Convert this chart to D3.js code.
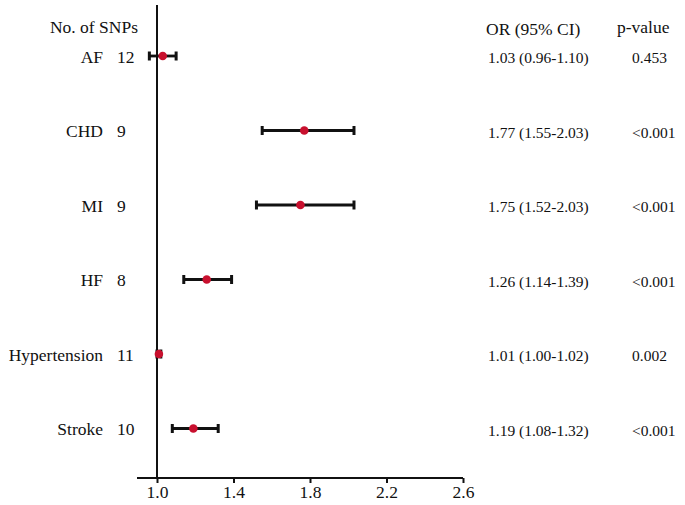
<!DOCTYPE html>
<html>
<head>
<meta charset="utf-8">
<script src="https://cdn.jsdelivr.net/npm/d3@7"></script>
<style>
  html, body { margin: 0; padding: 0; background: #fff; }
  svg { display: block; }
  text { font-family: "Liberation Serif", "Times New Roman", serif; fill: #111; }
</style>
</head>
<body>
<svg id="chart" width="685" height="505"></svg>
<script>
const outcomes = ["AF", "CHD", "MI", "HF", "Hypertension", "Stroke"];
const nSNPs = [12, 9, 9, 8, 11, 10];
const orValues = [1.03, 1.77, 1.75, 1.26, 1.01, 1.19];
const ciLower = [0.96, 1.55, 1.52, 1.14, 1.00, 1.08];
const ciUpper = [1.10, 2.03, 2.03, 1.39, 1.02, 1.32];
const orLabels = ["1.03 (0.96-1.10)", "1.77 (1.55-2.03)", "1.75 (1.52-2.03)", "1.26 (1.14-1.39)", "1.01 (1.00-1.02)", "1.19 (1.08-1.32)"];
const pLabels = ["0.453", "<0.001", "<0.001", "<0.001", "0.002", "<0.001"];
const xTicks = [1.0, 1.4, 1.8, 2.2, 2.6];

const svg = d3.select("#chart");
const x = d3.scaleLinear().domain([1.0, 2.6]).range([157, 463]);
const y = d3.scalePoint().domain(outcomes).range([56, 428.5]);
const axisY = 478;
const ink = "#111";
const red = "#c8102e";

// vertical reference line at OR = 1
svg.append("line")
  .attr("x1", x(1)).attr("x2", x(1))
  .attr("y1", 5).attr("y2", axisY)
  .attr("stroke", ink).attr("stroke-width", 2);

// x axis
const xAxis = d3.axisBottom(x).tickValues(xTicks).tickFormat(d3.format(".1f")).tickSize(5).tickSizeOuter(0).tickPadding(3);
const gx = svg.append("g").attr("transform", `translate(0,${axisY})`).call(xAxis);
gx.select(".domain").remove();
gx.selectAll(".tick line").attr("stroke", ink).attr("stroke-width", 2);
gx.selectAll(".tick text").attr("font-size", 17.5).attr("fill", ink)
  .style("font-family", '"Liberation Serif", serif');
svg.append("line")
  .attr("x1", x(1) - 20).attr("x2", x(2.6))
  .attr("y1", axisY).attr("y2", axisY)
  .attr("stroke", ink).attr("stroke-width", 2);

const rows = outcomes.map((o, i) => ({
  o, n: nSNPs[i], or: orValues[i], lo: ciLower[i], hi: ciUpper[i], orl: orLabels[i], p: pLabels[i]
}));

const g = svg.append("g");
const row = g.selectAll("g.row").data(rows).join("g").attr("class", "row");

// CI lines
row.append("line")
  .attr("x1", d => x(d.lo)).attr("x2", d => x(d.hi))
  .attr("y1", d => y(d.o)).attr("y2", d => y(d.o))
  .attr("stroke", ink).attr("stroke-width", 2.8);
// caps
["lo", "hi"].forEach(k => {
  row.append("line")
    .attr("x1", d => x(d[k])).attr("x2", d => x(d[k]))
    .attr("y1", d => y(d.o) - 4.5).attr("y2", d => y(d.o) + 4.5)
    .attr("stroke", ink).attr("stroke-width", 3);
});
// points
row.append("circle")
  .attr("cx", d => x(d.or)).attr("cy", d => y(d.o)).attr("r", 4.3)
  .attr("fill", red);

// left labels
row.append("text").attr("x", 103).attr("y", d => y(d.o) + 6.5)
  .attr("text-anchor", "end").attr("font-size", 17.5).text(d => d.o);
row.append("text").attr("x", 117).attr("y", d => y(d.o) + 6.5)
  .attr("text-anchor", "start").attr("font-size", 17.5).text(d => d.n);

// right columns
row.append("text").attr("x", 488).attr("y", d => y(d.o) + 7)
  .attr("font-size", 15.5).text(d => d.orl);
row.append("text").attr("x", 632).attr("y", d => y(d.o) + 7)
  .attr("font-size", 15.5).text(d => d.p);

// headers
svg.append("text").attr("x", 138).attr("y", 33).attr("text-anchor", "end")
  .attr("font-size", 17.5).text("No. of SNPs");
svg.append("text").attr("x", 486).attr("y", 35)
  .attr("font-size", 17.5).text("OR (95% CI)");
svg.append("text").attr("x", 617).attr("y", 33)
  .attr("font-size", 17.5).text("p-value");
</script>
</body>
</html>
